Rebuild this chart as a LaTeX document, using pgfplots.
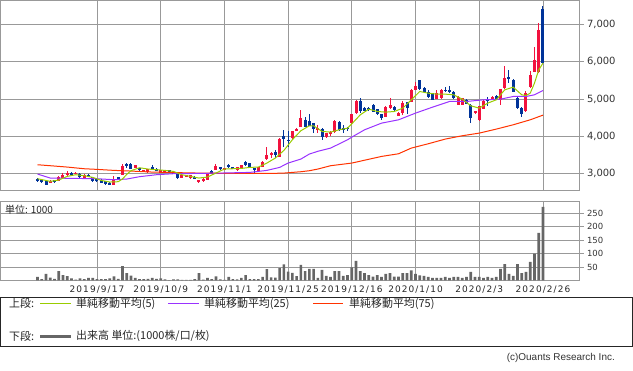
\documentclass[border=0pt]{standalone}
\usepackage{pgfplots}
\usepackage{pgfplotstable}
\pgfplotsset{compat=1.18}
\usepackage{fontspec}
\setmainfont{DejaVu Sans}
\newfontfamily\jp{Noto Sans CJK JP}
\newfontfamily\datefont[LetterSpace=12]{DejaVu Sans}
\newfontfamily\credfont{Liberation Sans}
\definecolor{up}{HTML}{F2123E}
\definecolor{dn}{HTML}{003399}
\definecolor{ma5}{HTML}{99CC00}
\definecolor{ma25}{HTML}{9933FF}
\definecolor{ma75}{HTML}{FF3300}
\definecolor{gridc}{HTML}{999999}
\definecolor{vol}{HTML}{666666}
\definecolor{txt}{HTML}{333333}

\pgfplotstableread{
i o h l c
0 2866 2880 2790 2813
1 2840 2860 2750 2768
2 2795 2810 2690 2705
3 2750 2830 2740 2813
4 2830 2840 2760 2768
5 2813 2930 2800 2920
6 2884 3030 2875 2955
7 2955 3080 2945 3026
8 3026 3040 2945 2955
9 2991 3035 2980 3026
10 3000 3030 2880 2902
11 2884 2980 2870 2955
12 2973 2990 2900 2919
13 2902 2910 2785 2795
14 2866 2880 2780 2795
15 2839 2850 2745 2759
16 2795 2800 2710 2723
17 2759 2770 2690 2697
18 2705 2930 2690 2848
19 2902 2910 2820 2830
20 2973 3270 2960 3196
21 3249 3290 3150 3223
22 3267 3275 3120 3133
23 3151 3240 3140 3223
24 3151 3160 3080 3089
25 3071 3110 3060 3089
26 3035 3125 3025 3116
27 3187 3220 3125 3133
28 3133 3145 3080 3089
29 3026 3100 3020 3089
30 3026 3095 3015 3089
31 3089 3100 3040 3053
32 3053 3060 3000 3008
33 2991 3000 2870 2875
34 2884 2965 2875 2955
35 2919 2965 2910 2955
36 2884 2960 2870 2955
37 2919 2930 2860 2866
38 2768 2830 2760 2821
39 2795 2880 2785 2866
40 2830 3010 2820 3000
41 3080 3090 2990 3000
42 3107 3249 3100 3196
43 3178 3190 3089 3133
44 3107 3150 3095 3142
45 3223 3267 3151 3187
46 3169 3180 3125 3133
47 3089 3175 3080 3169
48 3133 3230 3125 3223
49 3303 3350 3215 3223
50 3276 3290 3140 3151
51 3151 3160 3026 3089
52 3062 3180 3050 3169
53 3187 3330 3180 3320
54 3383 3721 3375 3490
55 3516 3570 3430 3543
56 3570 3623 3410 3490
57 3454 3950 3440 3936
58 3998 4176 3721 3936
59 3909 4131 3721 3882
60 3944 4150 3930 4131
61 4140 4220 4130 4203
62 4247 4711 4240 4497
63 4435 4515 4250 4257
64 4408 4595 4270 4283
65 4363 4370 4080 4185
66 4194 4310 4080 4221
67 4200 4230 3910 3985
68 3990 4100 3960 4080
69 4080 4130 4020 4100
70 4110 4440 4090 4400
71 4380 4400 4150 4170
72 4220 4300 4090 4190
73 4230 4260 4150 4200
74 4345 4610 4330 4600
75 4620 4960 4600 4949
76 4949 5020 4620 4682
77 4771 4790 4670 4682
78 4760 4780 4690 4710
79 4842 4860 4650 4664
80 4727 4735 4560 4602
81 4593 4610 4450 4486
82 4531 4810 4520 4798
83 4753 5020 4740 4842
84 4798 4810 4660 4709
85 4557 4640 4540 4620
86 4620 4950 4575 4905
87 4914 4930 4600 4771
88 4931 5280 4920 5244
89 5244 5450 5230 5359
90 5511 5520 5250 5261
91 5306 5320 5150 5199
92 5181 5240 5040 5065
93 5154 5170 4960 4976
94 5003 5250 4990 5154
95 5020 5270 5010 5244
96 5244 5333 5181 5217
97 5244 5350 5170 5199
98 5199 5220 4990 5020
99 4850 5070 4840 5060
100 4844 5040 4830 5023
101 4978 4990 4860 4871
102 4844 4860 4354 4488
103 4622 4690 4600 4666
104 4426 4810 4420 4800
105 4729 4960 4720 4952
106 4996 5050 4820 4970
107 4990 5067 4970 5060
108 5080 5100 4980 5000
109 4978 5280 4844 5263
110 5290 5887 5270 5575
111 5584 5763 5430 5549
112 5500 5530 5180 5200
113 5023 5067 4720 4755
114 4755 4780 4530 4604
115 4666 5201 4650 5156
116 5315 5760 5288 5644
117 5736 6404 5710 6048
118 5736 7028 5700 6850
119 7402 7492 5940 5976
}\candles

\pgfplotstableread{
i v
0 2866
3 2795
5 2830
7 2928
9 2973
11 2946
13 2902
15 2821
17 2777
19 2786
20 2860
21 2980
22 3080
24 3160
26 3125
28 3107
30 3089
32 3062
34 2973
36 2928
38 2884
40 2910
42 3017
44 3125
46 3133
48 3142
50 3169
52 3178
54 3285
56 3419
58 3623
60 3909
62 4150
64 4283
65 4283
67 4132
69 4114
71 4176
73 4220
74 4336
76 4577
78 4729
80 4666
82 4648
84 4666
86 4755
88 4978
90 5201
92 5156
94 5130
96 5130
98 5112
100 4996
102 4818
104 4755
106 4889
108 4978
110 5246
112 5317
114 5112
115 5094
116 5156
117 5424
118 5780
119 5959
}\maA

\pgfplotstableread{
i v
0 2991
3 2884
14 2866
18 2839
21 2857
24 2920
28 2973
32 3000
38 3008
43 3017
50 3035
54 3089
57 3169
59 3285
62 3392
64 3526
66 3600
69 3686
73 3909
74 3980
77 4176
81 4354
85 4443
89 4622
93 4782
97 4934
101 4934
105 4978
109 4996
112 5067
115 5067
117 5112
119 5228
}\maB

\pgfplotstableread{
i v
0 3240
3 3214
7 3178
11 3133
14 3116
18 3089
22 3071
27 3044
34 3026
38 3017
46 3008
55 3008
58 3017
62 3053
64 3080
66 3125
69 3214
74 3285
81 3463
85 3534
88 3686
92 3802
96 3927
100 4016
104 4087
108 4194
112 4310
116 4443
119 4568
}\maC

\pgfplotstableread{
i v
0 12.7
1 5
2 24
3 10
4 6
5 35
6 20
7 16
8 8
9 3
10 8
11 5
12 9
13 9
14 5
15 5
16 5
17 8
18 15
19 6
20 53.7
21 27.6
22 17.6
23 9
24 5
25 5
26 6
27 9
28 6
29 8
30 4
31 1.5
32 4
33 4
34 2
35 2
36 2
37 5
38 27.6
39 3
40 9
41 5
42 15
43 4
44 2
45 12.7
46 5
47 4
48 9
49 20
50 5
51 5
52 5
53 12.7
54 42.5
55 11.4
56 10
57 46.2
58 60
59 33
60 28
61 16.4
62 57.5
63 35
64 42.6
65 42.6
66 9
67 39
68 16.5
69 12.8
70 35
71 35
72 16.5
73 20
74 49
75 72.4
76 35
77 27.6
78 20
79 14
80 20
81 12.8
82 24
83 27.6
84 14
85 14
86 27.6
87 27.6
88 37.6
89 24
90 19
91 16.5
92 12.8
93 9
94 9
95 9
96 12.8
97 9
98 12.8
99 12.8
100 9
101 12.8
102 31.4
103 12.8
104 12.8
105 9
106 12.8
107 9
108 12.8
109 42.6
110 61
111 24
112 16.5
113 61
114 27.6
115 31.4
116 68.7
117 100
118 177
119 274
}\vold

\begin{document}
\begin{tikzpicture}
\path[use as bounding box] (0,0) rectangle (633bp,-371bp);
\pgfplotsset{
  base/.style={
    scale only axis, width=579.5bp,
    xmin=-8.83, xmax=127.6,
    xtick={14,29,44,59,74,89,104,119},
    grid=major,
    major grid style={gridc, line width=0.8bp},
    axis line style={gridc, line width=0.8bp},
    ytick pos=right, yticklabel pos=right,
    tick align=outside, major tick length=4bp,
    major tick style={gridc, line width=0.8bp},
    xtick style={draw=none},
    scaled y ticks=false,
    /pgf/number format/assume math mode=true,
    yticklabel style={text=txt},
  },
  candle/.style 2 args={only marks, mark=none, mark size=0pt,
    mark options={draw=none, fill=none}, forget plot,
    error bars/.cd, y dir=both, y explicit, error mark=none,
    error bar style={draw=#1, line width=#2}},
}
\begin{axis}[base, at={(0,0)}, anchor=north west, height=190bp,
  ymin=2564, ymax=7650, ytick={3000,4000,5000,6000,7000},
  xticklabels={},
  yticklabel style={font=\fontsize{10}{12}\selectfont, /pgf/number format/1000 sep={,}}]
  % wicks
  \addplot[candle={up}{1bp}]
    table[x=i, y expr={\thisrow{c}>=\thisrow{o} ? (\thisrow{h}+\thisrow{l})/2 : nan},
      y error expr={(\thisrow{h}-\thisrow{l})/2}] {\candles};
  \addplot[candle={dn}{1bp}]
    table[x=i, y expr={\thisrow{c}<\thisrow{o} ? (\thisrow{h}+\thisrow{l})/2 : nan},
      y error expr={(\thisrow{h}-\thisrow{l})/2}] {\candles};
  % bodies
  \addplot[candle={up}{3bp}]
    table[x=i, y expr={\thisrow{c}>=\thisrow{o} ? (\thisrow{o}+\thisrow{c})/2 : nan},
      y error expr={max(abs(\thisrow{c}-\thisrow{o})/2,14)}] {\candles};
  \addplot[candle={dn}{3bp}]
    table[x=i, y expr={\thisrow{c}<\thisrow{o} ? (\thisrow{o}+\thisrow{c})/2 : nan},
      y error expr={max(abs(\thisrow{c}-\thisrow{o})/2,14)}] {\candles};
  % moving averages
  \addplot[ma75, line width=1bp, mark=none] table[x=i, y=v] {\maC};
  \addplot[ma25, line width=1bp, mark=none] table[x=i, y=v] {\maB};
  \addplot[ma5, line width=1bp, mark=none] table[x=i, y=v] {\maA};
\end{axis}

\begin{axis}[base, at={(0,-201bp)}, anchor=north west, height=79.4bp,
  ymin=0, ymax=296, ytick={50,100,150,200,250},
  xticklabels={2019/9/17,2019/10/9,2019/11/1,2019/11/25,2019/12/16,2020/1/10,2020/2/3,2020/2/26},
  xticklabel style={font=\datefont\fontsize{9}{10}\selectfont, text=black!85, inner sep=0pt, anchor=north, yshift=-1bp},
  yticklabel style={font=\fontsize{8.5}{10}\selectfont}]
  \addplot[ybar, bar width=2.7bp, fill=vol, draw=none] table[x=i, y=v] {\vold};
\end{axis}

\node[anchor=west, inner sep=0pt, text=black!85] at (5bp,-209.5bp) {\jp\fontsize{10}{12}\selectfont 単位: 1000};

% legend box
\draw[black!85, line width=0.8bp] (0.5bp,-297bp) rectangle (632bp,-346bp);
\begin{scope}[every node/.style={anchor=west, inner sep=0pt, text=black!85, font=\jp\fontsize{11}{12}\selectfont}]
\node at (9bp,-303.5bp) {上段:};
\draw[ma5, line width=1bp] (40bp,-303.5bp) -- (71bp,-303.5bp);
\node at (76bp,-303.5bp) {単純移動平均(5)};
\draw[ma25, line width=1bp] (168bp,-303.5bp) -- (199bp,-303.5bp);
\node at (204bp,-303.5bp) {単純移動平均(25)};
\draw[ma75, line width=1bp] (313bp,-303.5bp) -- (343bp,-303.5bp);
\node at (349bp,-303.5bp) {単純移動平均(75)};
\node at (9bp,-336bp) {下段:};
\draw[vol, line width=3bp] (40bp,-336bp) -- (71bp,-336bp);
\node at (76bp,-336bp) {出来高 単位:(1000株/口/枚)};
\end{scope}
\node[anchor=east, inner sep=0pt, text=txt] at (615bp,-357.5bp) {\credfont\fontsize{10}{12}\selectfont (c)Ouants Research Inc.};
\end{tikzpicture}
\end{document}
